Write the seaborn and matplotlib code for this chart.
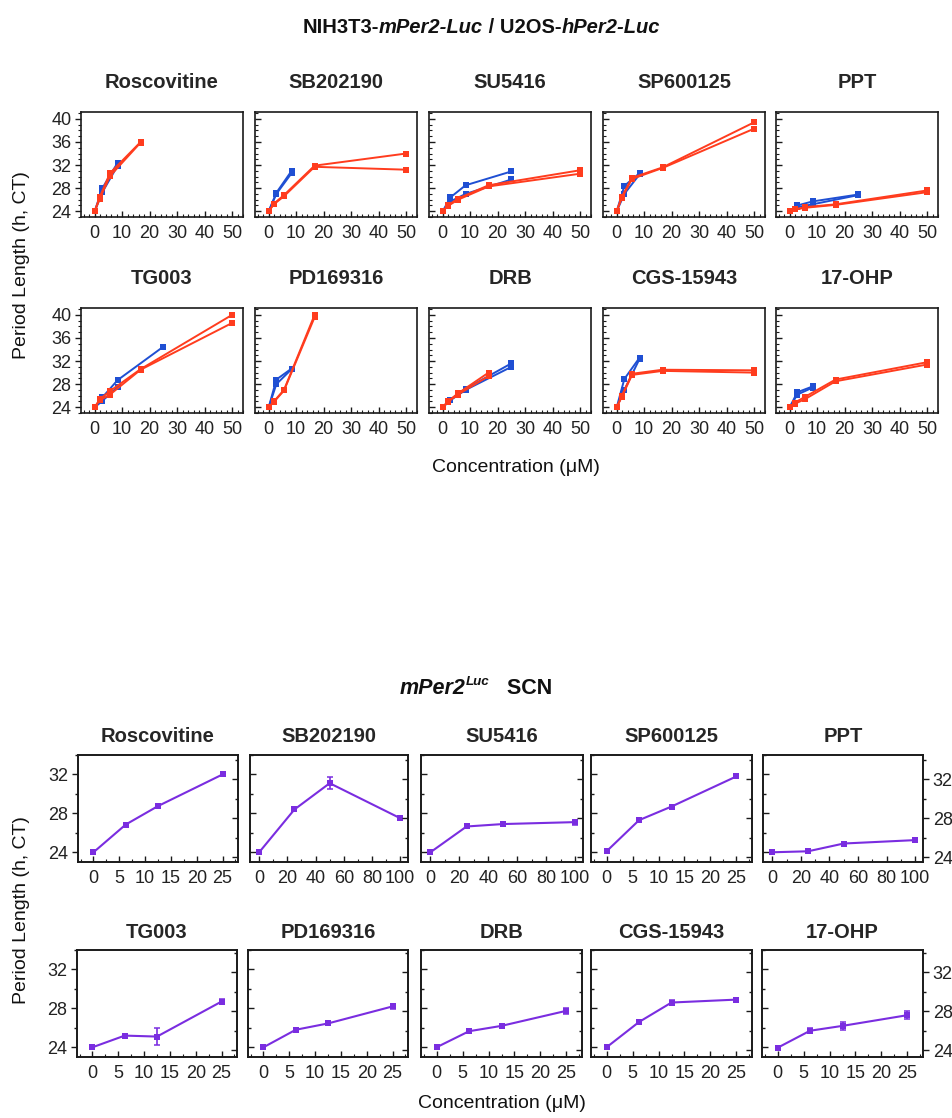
import numpy as np
import pandas as pd
import matplotlib
matplotlib.use("Agg")
import matplotlib.pyplot as plt
import seaborn as sns
from matplotlib.ticker import MultipleLocator

# ---------------- data ----------------
drugs = ["Roscovitine", "SB202190", "SU5416", "SP600125", "PPT",
         "TG003", "PD169316", "DRB", "CGS-15943", "17-OHP"]

nan = np.nan
# cell lines (top): blue = NIH3T3-mPer2-Luc, red = U2OS-hPer2-Luc (two replicates each)
conc_blue = [0, 2.78, 8.33, 25]
conc_red = [0, 1.85, 5.56, 16.7, 50]

blue_rep1 = [
    [24.0, 28.0, 32.4, nan],
    [24.0, 27.2, 31.0, nan],
    [24.0, 26.4, 28.5, 30.9],
    [24.0, 28.4, 30.6, nan],
    [24.0, 25.0, 25.7, 26.9],
    [24.0, 25.7, 28.7, 34.5],
    [24.0, 28.8, 30.7, nan],
    [24.0, 25.3, 27.2, 31.6],
    [24.0, 28.9, 32.6, nan],
    [24.0, 26.6, 27.6, nan],
]
blue_rep2 = [
    [24.0, 27.3, 31.9, nan],
    [24.0, 27.0, 30.6, nan],
    [24.0, 25.7, 27.0, 29.5],
    [24.0, 27.0, 30.4, nan],
    [24.0, 24.7, 25.2, 26.8],
    [24.0, 25.1, 27.5, nan],
    [24.0, 28.0, 30.6, nan],
    [24.0, 25.2, 27.0, 31.0],
    [24.0, 27.0, 32.4, nan],
    [24.0, 26.2, 27.4, nan],
]
red_rep1 = [
    [24.0, 26.5, 30.6, 36.0, nan],
    [24.0, 25.3, 26.8, 31.9, 34.0],
    [24.0, 25.0, 26.2, 28.5, 31.1],
    [24.0, 26.5, 29.8, 31.6, 39.4],
    [24.0, 24.3, 24.7, 25.2, 27.6],
    [24.0, 25.4, 26.8, 30.6, 40.0],
    [24.0, 25.0, 27.0, 40.0, nan],
    [24.0, 25.0, 26.4, 30.0, nan],
    [24.0, 26.0, 29.8, 30.5, 30.4],
    [24.0, 24.8, 25.8, 28.8, 31.8],
]
red_rep2 = [
    [24.0, 26.2, 30.1, 35.9, nan],
    [24.0, 25.2, 26.6, 31.7, 31.2],
    [24.0, 24.9, 26.0, 28.3, 30.5],
    [24.0, 26.3, 29.6, 31.5, 38.3],
    [24.0, 24.3, 24.6, 25.1, 27.3],
    [24.0, 25.2, 26.2, 30.5, 38.6],
    [24.0, 24.9, 26.9, 39.6, nan],
    [24.0, 24.9, 26.2, 29.4, nan],
    [24.0, 25.8, 29.6, 30.3, 30.0],
    [24.0, 24.6, 25.4, 28.5, 31.4],
]

# SCN explants (bottom): mean +/- error
conc_scn_low = [0, 6.25, 12.5, 25]
conc_scn_high = [0, 25, 50, 100]
scn_high_dose = ["SB202190", "SU5416", "PPT"]
scn_mean = [
    [24.0, 26.85, 28.75, 32.0],
    [24.0, 28.4, 31.1, 27.5],
    [24.0, 26.65, 26.9, 27.1],
    [24.1, 27.3, 28.7, 31.8],
    [24.0, 24.1, 24.9, 25.25],
    [24.0, 25.2, 25.1, 28.7],
    [24.0, 25.8, 26.45, 28.2],
    [24.0, 25.65, 26.2, 27.75],
    [24.0, 26.6, 28.6, 28.9],
    [23.95, 25.7, 26.2, 27.3],
]
scn_err = [
    [0.1, 0.1, 0.1, 0.05],
    [0.05, 0.2, 0.6, 0.15],
    [0.05, 0.05, 0.1, 0.25],
    [0.1, 0.2, 0.1, 0.1],
    [0.05, 0.05, 0.15, 0.15],
    [0.05, 0.05, 0.9, 0.25],
    [0.1, 0.05, 0.2, 0.25],
    [0.05, 0.05, 0.2, 0.3],
    [0.05, 0.05, 0.3, 0.05],
    [0.05, 0.25, 0.4, 0.4],
]

# ---------------- style ----------------
sns.set_theme(style="ticks")
plt.rcParams['font.family'] = ['Liberation Sans', 'DejaVu Sans']
plt.rcParams['axes.linewidth'] = 1.2
plt.rcParams['axes.edgecolor'] = '#1a1a1a'
plt.rcParams['xtick.color'] = '#1a1a1a'
plt.rcParams['ytick.color'] = '#1a1a1a'
plt.rcParams['xtick.labelcolor'] = '#222222'
plt.rcParams['ytick.labelcolor'] = '#222222'

BLUE = "#1f4fd3"
RED = "#ff3c1e"
PURPLE = "#7a2de0"
TICK_FS = 13
TITLE_FS = 14.5
LABEL_FS = 14

W, H = 952, 1118
fig = plt.figure(figsize=(W / 100, H / 100), dpi=100)


def add_ax(x0, y0, x1, y1):
    return fig.add_axes([x0 / W, 1 - y1 / H, (x1 - x0) / W, (y1 - y0) / H])


def rich_text(parts, xc, ybase, size):
    """parts: list of (text, style, dy_px, scale). Centered at xc (px)."""
    r = fig.canvas.get_renderer()
    arts = []
    widths = []
    for s, style, dy, sc in parts:
        t = fig.text(0, 1 - (ybase - dy) / H, s, fontsize=size * sc,
                     fontweight='bold', fontstyle=style, ha='left',
                     va='baseline', color='#111111')
        arts.append(t)
        widths.append(t.get_window_extent(r).width)
    total = sum(widths)
    x = xc - total / 2
    for t, w in zip(arts, widths):
        t.set_x(x / W)
        x += w


# ---------------- top block ----------------
top_lefts = [81, 255, 429, 603, 776]
top_rows = [(112, 217), (308, 413)]

for i, drug in enumerate(drugs):
    r, c = divmod(i, 5)
    y0, y1 = top_rows[r]
    ax = add_ax(top_lefts[c], y0, top_lefts[c] + 162, y1)
    for rep, col, conc in ((blue_rep1, BLUE, conc_blue), (blue_rep2, BLUE, conc_blue),
                           (red_rep1, RED, conc_red), (red_rep2, RED, conc_red)):
        df = pd.DataFrame({"conc": conc, "period": rep[i]}).dropna()
        sns.lineplot(data=df, x="conc", y="period", ax=ax, color=col,
                     marker="s", markersize=4, markeredgewidth=0,
                     linewidth=1.4, estimator=None, sort=False)
    ax.set_xlim(-5, 54)
    ax.set_ylim(23, 41.2)
    ax.set_xticks([0, 10, 20, 30, 40, 50])
    ax.set_yticks([24, 28, 32, 36, 40])
    ax.xaxis.set_minor_locator(MultipleLocator(2))
    ax.yaxis.set_minor_locator(MultipleLocator(1))
    ax.set_xlabel("")
    ax.set_ylabel("")
    ax.tick_params(axis='x', which='major', direction='in', length=4, width=1,
                   labelsize=TICK_FS, pad=6)
    ax.tick_params(axis='x', which='minor', direction='in', length=2.5, width=0.8)
    ydir = 'out' if c == 0 else 'in'
    ax.tick_params(axis='y', which='major', direction=ydir, length=4, width=1,
                   labelsize=TICK_FS, labelleft=(c == 0), pad=3)
    ax.tick_params(axis='y', which='minor', direction=ydir, length=2.5, width=0.8)
    ax.set_title(drug, fontsize=TITLE_FS, fontweight='bold', pad=17)
    for s in ax.spines.values():
        s.set_visible(True)

rich_text([("NIH3T3-", "normal", 0, 1), ("mPer2-Luc", "italic", 0, 1),
           (" / U2OS-", "normal", 0, 1), ("hPer2-Luc", "italic", 0, 1)],
          481, 33, 14.5)
fig.text(516 / W, 1 - 467 / H, "Concentration (\u03bcM)", fontsize=LABEL_FS,
         ha='center', va='center', color='#111111')
fig.text(22 / W, 1 - 265 / H, "Period Length (h, CT)", fontsize=LABEL_FS,
         ha='center', va='center', rotation=90, color='#111111')

# ---------------- bottom block ----------------
bot_rows = [((755, 862), [78, 250, 421, 591, 763], [160, 158, 162, 161, 160]),
            ((950, 1057), [77, 248, 421, 591, 762], [160, 160, 161, 161, 161])]

for i, drug in enumerate(drugs):
    r, c = divmod(i, 5)
    (y0, y1), lefts, widths = bot_rows[r]
    ax = add_ax(lefts[c], y0, lefts[c] + widths[c], y1)
    conc = conc_scn_high if drug in scn_high_dose else conc_scn_low
    df = pd.DataFrame({"conc": conc, "period": scn_mean[i], "err": scn_err[i]})
    ax.errorbar(df["conc"], df["period"], yerr=df["err"], fmt='none',
                ecolor=PURPLE, elinewidth=1.2, capsize=2.5, capthick=1.1, zorder=3)
    sns.lineplot(data=df, x="conc", y="period", ax=ax, color=PURPLE,
                 marker="s", markersize=4, markeredgewidth=0, linewidth=1.5,
                 estimator=None, sort=False, zorder=4)
    if drug in scn_high_dose:
        ax.set_xlim(-6.5, 105.5)
        ax.set_xticks([0, 20, 40, 60, 80, 100])
        ax.xaxis.set_minor_locator(MultipleLocator(10))
    else:
        ax.set_xlim(-3, 28)
        ax.set_xticks([0, 5, 10, 15, 20, 25])
        ax.xaxis.set_minor_locator(MultipleLocator(2.5))
    ax.set_ylim(23, 34)
    ax.set_yticks([24, 28, 32])
    ax.yaxis.set_minor_locator(MultipleLocator(2))
    ax.set_xlabel("")
    ax.set_ylabel("")
    ax.tick_params(axis='x', which='major', direction='in', length=4, width=1,
                   labelsize=TICK_FS, pad=6)
    ax.tick_params(axis='x', which='minor', direction='in', length=2.5, width=0.8)
    ydir = 'out' if c == 0 else 'in'
    ax.tick_params(axis='y', which='both', direction=ydir, width=1,
                   labelsize=TICK_FS, labelleft=(c == 0), pad=3, right=False)
    ax.tick_params(axis='y', which='major', length=4)
    ax.tick_params(axis='y', which='minor', length=2.5)
    ax.set_title(drug, fontsize=TITLE_FS, fontweight='bold', pad=9)
    # right-hand scale (slightly offset in the original composite)
    ax2 = ax.twinx()
    off = 0.5 if r == 0 else 0.3
    ax2.set_ylim(23 + off, 34 + off)
    ax2.set_yticks([24, 28, 32])
    ax2.yaxis.set_minor_locator(MultipleLocator(2))
    rdir = 'out' if c == 4 else 'in'
    ax2.tick_params(axis='y', which='both', direction=rdir, width=1,
                    labelsize=TICK_FS, labelright=(c == 4), pad=3)
    ax2.tick_params(axis='y', which='major', length=4)
    ax2.tick_params(axis='y', which='minor', length=2.5)
    ax2.grid(False)

rich_text([("mPer2", "italic", 0, 1), ("Luc", "italic", 9, 0.62),
           ("   SCN", "normal", 0, 1)], 476, 694, 15.5)
fig.text(502 / W, 1 - 1103 / H, "Concentration (\u03bcM)", fontsize=LABEL_FS,
         ha='center', va='center', color='#111111')
fig.text(22 / W, 1 - 910 / H, "Period Length (h, CT)", fontsize=LABEL_FS,
         ha='center', va='center', rotation=90, color='#111111')

fig.savefig("out.png", dpi=100, facecolor='white')
